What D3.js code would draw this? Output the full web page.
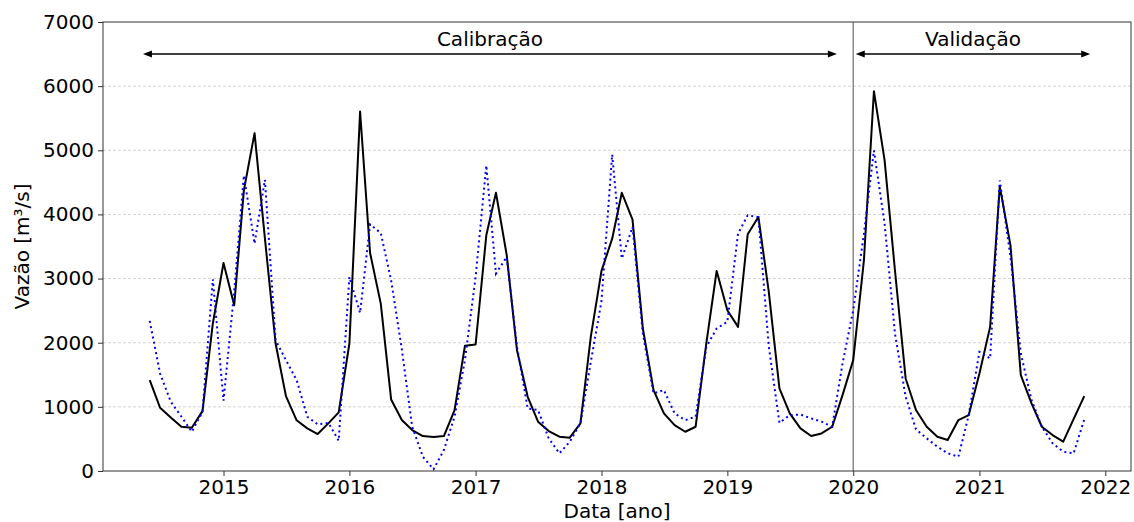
<!DOCTYPE html>
<html>
<head>
<meta charset="utf-8">
<script src="https://cdn.jsdelivr.net/npm/d3@7"></script>
<style>
  html, body { margin: 0; padding: 0; background: #fff; }
  svg { display: block; font-family: "DejaVu Sans", sans-serif; }
</style>
</head>
<body>
<svg id="chart" width="1134" height="522"></svg>
<script>
// Monthly series, June 2014 through November 2021
const firstMonth = new Date(2014, 5, 1);
const observed = [
  1417, 986, 835, 690, 675, 934, 2300,
  3243, 2584, 4375, 5267, 3627, 1988, 1168, 790, 664, 576, 742, 913,
  1988, 5605, 3399, 2610, 1116, 794, 638, 545, 529, 545, 950, 1951,
  1972, 3674, 4338, 3373, 1884, 1157, 768, 623, 535, 519, 742, 2091,
  3119, 3622, 4338, 3918, 2221, 1261, 898, 716, 612, 690, 1988, 3119,
  2507, 2247, 3690, 3960, 2800, 1287, 898, 664, 545, 586, 690, 1183,
  1728, 3285, 5921, 4842, 3130, 1443, 950, 690, 535, 483, 794, 872,
  1520, 2247, 4437, 3518, 1495, 1053, 690, 560, 457, 810, 1168
];
const simulated = [
  2340, 1520, 1080, 846, 612, 924, 2989,
  1095, 2800, 4608, 3544, 4540, 2040, 1728, 1417, 846, 727, 752, 472,
  3025, 2465, 3845, 3710, 2973, 1900, 690, 223, 26, 327, 850, 1728,
  3025, 4764, 3077, 3337, 1936, 976, 950, 509, 275, 457, 742, 1700,
  2650, 4935, 3311, 3804, 2143, 1209, 1261, 898, 794, 846, 1936, 2221,
  2325, 3700, 3986, 3960, 1950, 752, 870, 880, 820, 770, 690, 1676,
  2507, 3700, 4997, 3856, 2143, 1157, 649, 509, 379, 275, 223, 872,
  1858, 1754, 4530, 3337, 1832, 1105, 690, 431, 301, 275, 804
];
const months = d3.range(observed.length).map(i => d3.timeMonth.offset(firstMonth, i));

const yTicks = [0, 1000, 2000, 3000, 4000, 5000, 6000, 7000];
const xTickYears = [2015, 2016, 2017, 2018, 2019, 2020, 2021, 2022];

// Period annotations (fractional years)
const periods = [
  { label: "Calibração", from: 2014.36, to: 2019.87 },
  { label: "Validação", from: 2020.02, to: 2021.88 }
];
const periodLevel = 6500;
const splitYear = 2020;

const yearToDate = v => {
  const yr = Math.floor(v);
  const a = new Date(yr, 0, 1), b = new Date(yr + 1, 0, 1);
  return new Date(+a + (v - yr) * (b - a));
};

const svg = d3.select("#chart");
const plotLeft = 103, plotRight = 1131, plotTop = 22, plotBottom = 471;

const t0 = months[0], t1 = months[months.length - 1];
const pad = (t1 - t0) * 0.05;
const x = d3.scaleTime()
  .domain([new Date(+t0 - pad), new Date(+t1 + pad)])
  .range([plotLeft, plotRight]);
const y = d3.scaleLinear().domain([0, 7000]).range([plotBottom, plotTop]);

// horizontal grid
svg.append("g")
  .selectAll("line")
  .data(yTicks.filter(v => v > 0 && v < 7000))
  .join("line")
  .attr("x1", plotLeft).attr("x2", plotRight)
  .attr("y1", d => y(d)).attr("y2", d => y(d))
  .attr("stroke", "#c8c8c8")
  .attr("stroke-width", 0.8)
  .attr("stroke-dasharray", "3,2");

// split between calibration and validation
const xSplit = x(new Date(splitYear, 0, 1));
svg.append("line")
  .attr("x1", xSplit).attr("x2", xSplit)
  .attr("y1", plotTop).attr("y2", plotBottom)
  .attr("stroke", "#8a8a8a")
  .attr("stroke-width", 1.5);

// series
const line = d3.line()
  .x((d, i) => x(months[i]))
  .y(d => y(d));

svg.append("path")
  .datum(observed)
  .attr("d", line)
  .attr("fill", "none")
  .attr("stroke", "#000")
  .attr("stroke-width", 2)
  .attr("stroke-linejoin", "round");

svg.append("path")
  .datum(simulated)
  .attr("d", line)
  .attr("fill", "none")
  .attr("stroke", "#0000ff")
  .attr("stroke-width", 2)
  .attr("stroke-dasharray", "2,3.3");

// double-headed period arrows
const head = (px, py, dir) => {
  const L = 9, W = 3.5;
  return `M${px},${py}L${px - dir * L},${py - W}L${px - dir * L},${py + W}Z`;
};
const pg = svg.append("g");
periods.forEach(p => {
  const xa = x(yearToDate(p.from)), xb = x(yearToDate(p.to)), yy = y(periodLevel);
  pg.append("line")
    .attr("x1", xa + 4).attr("x2", xb - 4)
    .attr("y1", yy).attr("y2", yy)
    .attr("stroke", "#000").attr("stroke-width", 1.5);
  pg.append("path").attr("d", head(xa, yy, -1)).attr("fill", "#000");
  pg.append("path").attr("d", head(xb, yy, 1)).attr("fill", "#000");
  pg.append("text")
    .attr("x", (xa + xb) / 2)
    .attr("y", yy - 8)
    .attr("text-anchor", "middle")
    .attr("font-size", 20)
    .attr("fill", "#000")
    .text(p.label);
});

// axes
const xAxis = d3.axisBottom(x)
  .tickValues(xTickYears.map(yr => new Date(yr, 0, 1)))
  .tickFormat(d3.timeFormat("%Y"))
  .tickSize(5).tickPadding(4);
const yAxis = d3.axisLeft(y)
  .tickValues(yTicks)
  .tickFormat(d3.format("d"))
  .tickSize(5).tickPadding(4);

const gx = svg.append("g").attr("transform", `translate(0,${plotBottom})`).call(xAxis);
const gy = svg.append("g").attr("transform", `translate(${plotLeft},0)`).call(yAxis);
[gx, gy].forEach(g => {
  g.select(".domain").remove();
  g.selectAll(".tick line").attr("stroke", "#333").attr("stroke-width", 1);
  g.selectAll(".tick text").attr("font-size", 20).attr("fill", "#000")
    .attr("font-family", "DejaVu Sans, sans-serif");
});

// frame
svg.append("rect")
  .attr("x", plotLeft).attr("y", plotTop)
  .attr("width", plotRight - plotLeft).attr("height", plotBottom - plotTop)
  .attr("fill", "none").attr("stroke", "#333").attr("stroke-width", 1);

// axis titles
svg.append("text")
  .attr("x", (plotLeft + plotRight) / 2).attr("y", 518)
  .attr("text-anchor", "middle").attr("font-size", 20)
  .text("Data [ano]");
svg.append("text")
  .attr("transform", `translate(29,${(plotTop + plotBottom) / 2}) rotate(-90)`)
  .attr("text-anchor", "middle").attr("font-size", 20)
  .text("Vazão [m³/s]");
</script>
</body>
</html>
